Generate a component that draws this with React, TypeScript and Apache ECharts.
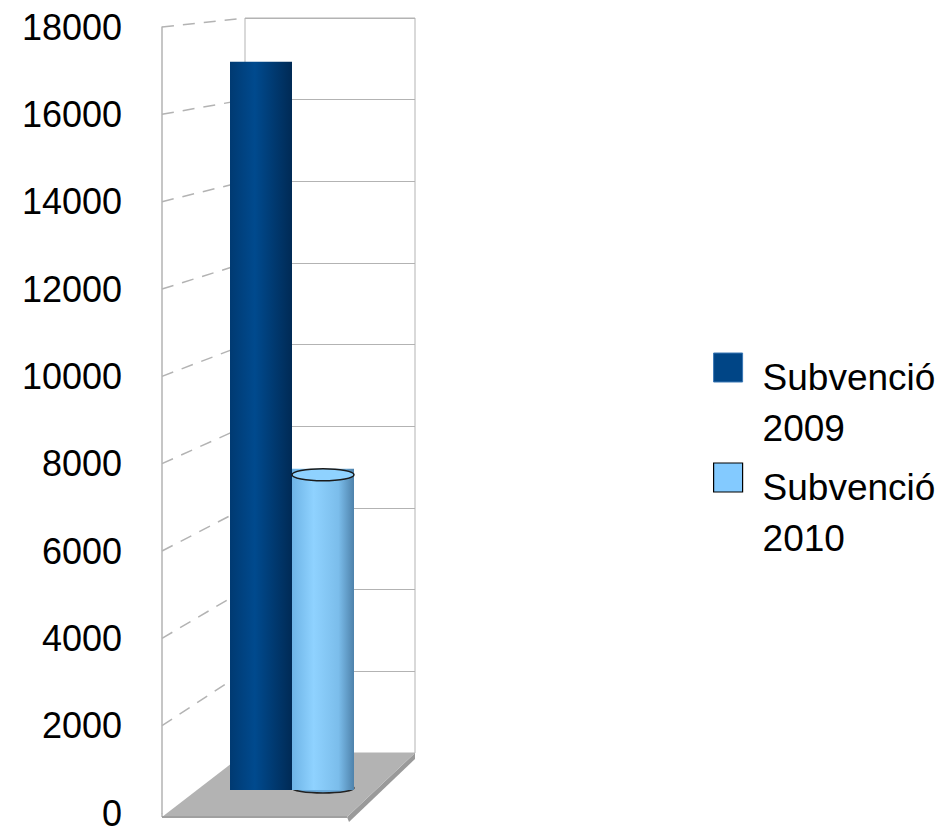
import React, { useEffect, useRef } from "react";
import * as echarts from "echarts";

const categories = ["Subvenció"];
const seriesNames = ["Subvenció\n2009", "Subvenció\n2010"];
const values2009 = [17000];
const values2010 = [7500];
const yTicks = [0, 2000, 4000, 6000, 8000, 10000, 12000, 14000, 16000, 18000];

// layout constants
const BACK = { left: 245, top: 18, width: 170, height: 735 };
const FRONT = { left: 162, top: 27, height: 786 };
const BARS = { left: 230, top: 19, width: 124, height: 771 };
const GRAY = "#b3b3b3";
// legend swatch: 29px square at the top of a 29x49 box (so the label sits lower)
const LEGEND_ICON = "path://M0,0L29,0L29,29L0,29Z M0,49L0.01,49";

export default function App() {
  const ref = useRef<HTMLDivElement>(null);
  useEffect(() => {
    document.body.style.margin = "0";
    const chart = echarts.init(ref.current!, null, { renderer: "svg" });
    const yMax = yTicks[yTicks.length - 1];
    const step = yTicks[1] - yTicks[0];
    const darkGrad = new echarts.graphic.LinearGradient(0, 0, 1, 0, [
      { offset: 0, color: "#003a72" },
      { offset: 0.4, color: "#004a8e" },
      { offset: 1, color: "#002a55" },
    ]);
    const lightGrad = new echarts.graphic.LinearGradient(0, 0, 1, 0, [
      { offset: 0, color: "#6eb4e6" },
      { offset: 0.35, color: "#8fd2ff" },
      { offset: 0.75, color: "#7bbdeb" },
      { offset: 1, color: "#4e82ab" },
    ]);
    chart.setOption({
      animation: false,
      grid: [
        { left: BACK.left, top: BACK.top, width: BACK.width, height: BACK.height, show: true, borderColor: GRAY, borderWidth: 1, outerBoundsMode: "none" },
        { left: FRONT.left, top: FRONT.top, width: 1, height: FRONT.height, outerBoundsMode: "none" },
        { left: BARS.left, top: BARS.top, width: BARS.width, height: BARS.height, outerBoundsMode: "none" },
      ],
      xAxis: [
        { gridIndex: 0, type: "category", data: categories, show: false },
        { gridIndex: 1, type: "category", data: categories, show: false },
        { gridIndex: 2, type: "category", data: categories, show: false },
      ],
      yAxis: [
        {
          gridIndex: 0, type: "value", min: 0, max: yMax, interval: step,
          axisLabel: { show: false }, axisLine: { show: false }, axisTick: { show: false },
          splitLine: { show: true, lineStyle: { color: GRAY, width: 1 } },
        },
        {
          gridIndex: 1, type: "value", min: 0, max: yMax, interval: step,
          axisLine: { show: true, lineStyle: { color: GRAY, width: 1.5 } },
          axisTick: { show: false }, splitLine: { show: false },
          axisLabel: {
            show: true, fontSize: 36, lineHeight: 26, color: "#000", margin: 40,
            fontFamily: "Liberation Sans, Arial, sans-serif",
            formatter: (v: number) => String(yTicks.find((t) => t === v) ?? v),
          },
        },
        { gridIndex: 2, type: "value", min: 0, max: yMax, show: false, splitLine: { show: false } },
      ],
      legend: {
        orient: "vertical", left: 713, top: 301, padding: 0, itemGap: -43,
        itemWidth: 29, itemHeight: 49, icon: LEGEND_ICON, selectedMode: false,
        formatter: (name: string) => "\n" + name,
        textStyle: {
          fontSize: 37, lineHeight: 51, color: "#000",
          fontFamily: "Liberation Sans, Arial, sans-serif", padding: [0, 0, 0, 15],
        },
        data: [
          { name: seriesNames[0], itemStyle: { color: "#004586", borderColor: "#3a78b5", borderWidth: 1 } },
          { name: seriesNames[1], itemStyle: { color: "#83caff", borderColor: "#000", borderWidth: 1.2 } },
        ],
      },
      series: [
        {
          name: "base2010", type: "custom", xAxisIndex: 2, yAxisIndex: 2, z: 1,
          data: values2010.map((v, i) => [i, 0]),
          renderItem: (params: any, api: any) => {
            const p = api.coord([api.value(0), 0]);
            const band = api.size([1, 0])[0];
            return {
              type: "ellipse",
              shape: { cx: p[0] + band / 4, cy: p[1] - 2, rx: band / 4, ry: 5 },
              style: { fill: "#6aa9d8", stroke: "#222", lineWidth: 1.5 },
            };
          },
        },
        {
          name: seriesNames[0], type: "bar", xAxisIndex: 2, yAxisIndex: 2,
          data: values2009, barWidth: BARS.width / 2, barGap: "0%", barCategoryGap: 0, z: 2,
          itemStyle: { color: darkGrad },
        },
        {
          name: seriesNames[1], type: "bar", xAxisIndex: 2, yAxisIndex: 2,
          data: values2010, barWidth: BARS.width / 2, barGap: "0%", barCategoryGap: 0, z: 2,
          itemStyle: { color: lightGrad },
        },
        {
          name: "top2010", type: "custom", xAxisIndex: 2, yAxisIndex: 2, z: 3,
          data: values2010.map((v, i) => [i, v]),
          renderItem: (params: any, api: any) => {
            const p = api.coord([api.value(0), api.value(1)]);
            const band = api.size([1, 0])[0];
            return {
              type: "ellipse",
              shape: { cx: p[0] + band / 4, cy: p[1] + 6, rx: band / 4, ry: 6 },
              style: { fill: "#8fd2ff", stroke: "#1a1a1a", lineWidth: 1.5 },
            };
          },
        },
      ],
    });

    // side wall lines and floor derived from the axes' scales
    const frontY = (v: number) => chart.convertToPixel({ yAxisIndex: 1 }, v) as number;
    const backY = (v: number) => chart.convertToPixel({ yAxisIndex: 0 }, v) as number;
    const fx = FRONT.left;
    const bx = BACK.left;
    const br = BACK.left + BACK.width;
    const f0 = frontY(0) + 4;
    const b0 = backY(0);
    const frontRight = br - 68;
    const graphics: any[] = yTicks.filter((t) => t > 0).map((t) => ({
      type: "line", z: 0,
      shape: { x1: fx, y1: frontY(t), x2: bx, y2: backY(t) },
      style: { stroke: GRAY, lineWidth: 1.5, lineDash: [12, 9] },
    }));
    graphics.push({
      type: "line", z: 0,
      shape: { x1: fx, y1: frontY(0), x2: fx, y2: f0 },
      style: { stroke: GRAY, lineWidth: 1.5 },
    });
    graphics.push({
      type: "polygon", z: 0,
      shape: { points: [[br, b0], [br, b0 + 6], [frontRight + 2, f0 + 5], [frontRight, f0]] },
      style: { fill: "#9a9a9a" },
    });
    graphics.push({
      type: "polygon", z: 0,
      shape: { points: [[fx, f0], [bx, b0], [br, b0], [frontRight, f0]] },
      style: { fill: GRAY },
    });
    graphics.push({
      type: "line", z: 0,
      shape: { x1: fx, y1: f0, x2: frontRight, y2: f0 },
      style: { stroke: "#a0a0a0", lineWidth: 2 },
    });
    chart.setOption({ graphic: graphics });
    return () => chart.dispose();
  }, []);
  return <div ref={ref} style={{ width: 948, height: 828 }} />;
}
